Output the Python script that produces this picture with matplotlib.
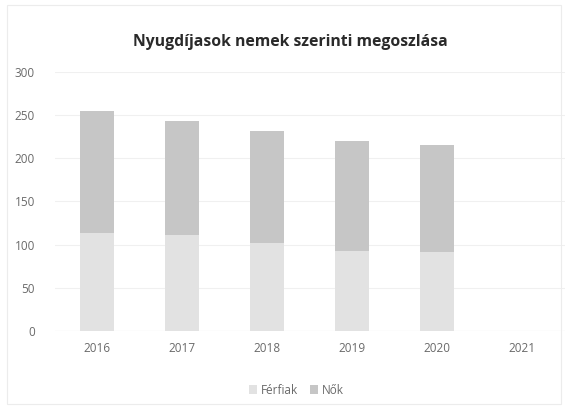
import matplotlib.pyplot as plt
import numpy as np

evek = ["2016", "2017", "2018", "2019", "2020", "2021"]
ferfiak = [113, 111, 102, 92, 91, 0]
nok = [142, 132, 130, 128, 124, 0]
y_ticks = [0, 50, 100, 150, 200, 250, 300]

plt.rcParams["font.family"] = ["Open Sans", "DejaVu Sans"]

fig = plt.figure(figsize=(5.68, 4.09), dpi=100)
ax = fig.add_axes([0.096, 0.191, 0.898, 0.633])

x = np.arange(len(evek))
sz = 0.39
ax.bar(x, ferfiak, width=sz, color="#e2e2e2", label="Férfiak", zorder=2)
ax.bar(x, nok, width=sz, bottom=ferfiak, color="#c6c6c6", label="Nők", zorder=2)

ax.set_xlim(-0.5, len(evek) - 0.5)
ax.set_ylim(0, 300)
ax.set_yticks(y_ticks)
ax.set_xticks(x)
ax.set_xticklabels(evek)
ax.tick_params(axis="both", length=0, labelsize=8.5, colors="#6a6a6a")
ax.tick_params(axis="x", pad=8)
ax.tick_params(axis="y", pad=14)
ax.grid(axis="y", color="#f0f0f0", linewidth=0.8, zorder=0)
for s in ax.spines.values():
    s.set_visible(False)
ax.axhline(0, color="#e8e8e8", linewidth=0.8, zorder=1)

fig.text(0.512, 0.897, "Nyugdíjasok nemek szerinti megoszlása", ha="center",
         va="center", fontsize=11.3, fontweight="bold", color="#2a2a2a")

leg = fig.legend(loc="center", bbox_to_anchor=(0.522, 0.046), ncol=2, frameon=False,
                 fontsize=8.5, handlelength=0.7, handleheight=0.7, handletextpad=0.3,
                 columnspacing=1.0)
for t in leg.get_texts():
    t.set_color("#6a6a6a")

fig.patches.append(plt.Rectangle((0.012, 0.012), 0.976, 0.976, transform=fig.transFigure,
                                 fill=False, edgecolor="#ececec", linewidth=0.8))

fig.savefig("out.png", dpi=100)
